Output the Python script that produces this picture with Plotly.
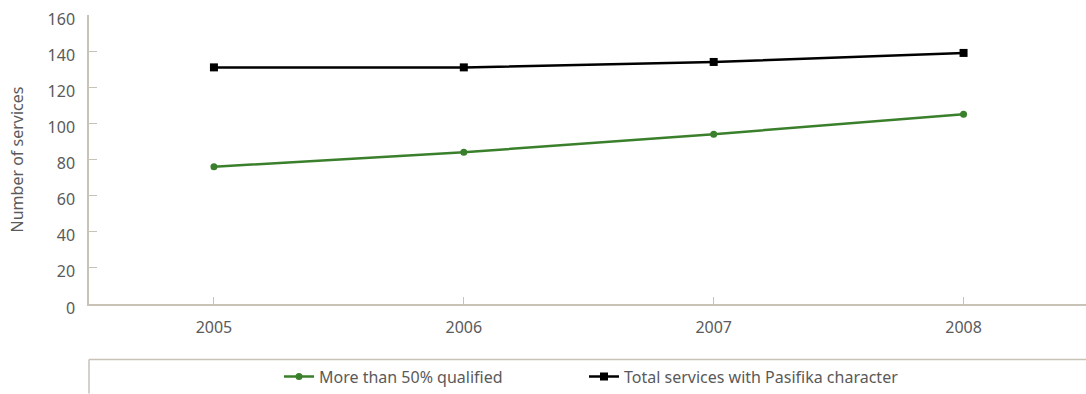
import plotly.graph_objects as go

years = ["2005", "2006", "2007", "2008"]
qualified = [76, 84, 94, 105]
total = [131, 131, 134, 139]
y_ticks = [0, 20, 40, 60, 80, 100, 120, 140, 160]

axis_col = "#c9c2b6"
text_col = "#5a5a5a"
font_fam = "Noto Sans, Open Sans, sans-serif"
fs = 16

H = 394
W = 1086
ml, mt, mb = 89, 15, 88
ph = H - mt - mb
pw = W - ml

def py(pix):
    return (H - mb - pix) / ph

def px(pix):
    return (pix - ml) / pw

fig = go.Figure()
fig.add_trace(go.Scatter(
    x=years, y=qualified, name="More than 50% qualified",
    mode="lines+markers",
    line=dict(color="#3a7f2b", width=2.5),
    marker=dict(symbol="circle", size=7, color="#3a7f2b"),
    legend="legend",
))
fig.add_trace(go.Scatter(
    x=years, y=total, name="Total services with Pasifika character",
    mode="lines+markers",
    line=dict(color="#000000", width=2.5),
    marker=dict(symbol="square", size=8, color="#000000"),
    legend="legend2",
))

leg_common = dict(
    orientation="h", yanchor="middle", y=py(379), xanchor="left",
    font=dict(size=fs, color=text_col),
    bgcolor="rgba(0,0,0,0)", itemwidth=30,
)

fig.update_layout(
    width=W, height=H,
    margin=dict(l=ml, r=0, t=mt, b=mb),
    paper_bgcolor="white", plot_bgcolor="white",
    font=dict(family=font_fam, size=fs, color=text_col),
    showlegend=True,
    legend=dict(x=px(279), **leg_common),
    legend2=dict(x=px(584), **leg_common),
    xaxis=dict(
        type="category", range=[-0.5, 3.49],
        showline=True, linecolor=axis_col, linewidth=1.5,
        ticks="inside", ticklen=7, tickcolor=axis_col, tickwidth=1,
        showgrid=False, zeroline=False,
        tickfont=dict(size=fs, color=text_col),
        ticklabelstandoff=8,
    ),
    yaxis=dict(
        range=[0, 160], tickvals=y_ticks,
        showline=True, linecolor=axis_col, linewidth=1.5,
        ticks="inside", ticklen=8, tickcolor=axis_col, tickwidth=1,
        showgrid=False, zeroline=False,
        tickfont=dict(size=fs, color=text_col),
        ticklabelstandoff=9, ticklabelshift=4,
        title=dict(text="Number of services", font=dict(size=fs, color=text_col), standoff=20),
    ),
    shapes=[
        dict(type="line", xref="paper", yref="paper", x0=0, x1=1.01,
             y0=py(362), y1=py(362), line=dict(color=axis_col, width=1.5)),
        dict(type="line", xref="paper", yref="paper", x0=0, x1=0,
             y0=py(362), y1=py(396), line=dict(color=axis_col, width=1.5)),
    ],
)

fig.write_html("out.html")
